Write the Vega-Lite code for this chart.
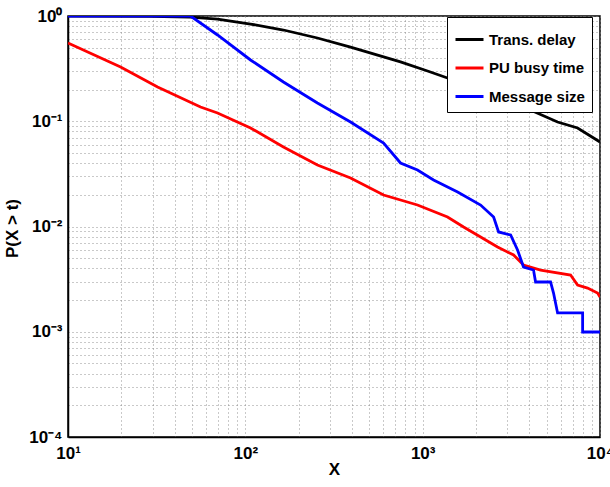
{
  "$schema": "https://vega.github.io/schema/vega-lite/v6.json",
  "width": 532,
  "height": 421,
  "autosize": {"type": "none"},
  "padding": {"left": 68, "top": 16, "right": 10, "bottom": 50},
  "background": "white",
  "view": {"stroke": "black", "strokeWidth": 1.5},
  "config": {
    "font": "Liberation Sans",
    "axis": {
      "labelFont": "Liberation Sans", "labelFontWeight": "bold", "labelFontSize": 17, "labelColor": "black",
      "titleFont": "Liberation Sans", "titleFontWeight": "bold", "titleFontSize": 17, "titleColor": "black",
      "gridColor": "#888", "gridDash": [1, 3], "gridWidth": 1, "gridOpacity": 0.9,
      "domainColor": "black", "domainWidth": 1.5, "ticks": false
    }
  },
  "data": {"values": [
    {"s": "Trans. delay", "o": 0, "x": 10, "y": 1},
    {"s": "Trans. delay", "o": 1, "x": 29.2, "y": 0.99},
    {"s": "Trans. delay", "o": 2, "x": 49, "y": 0.975},
    {"s": "Trans. delay", "o": 3, "x": 69.7, "y": 0.936},
    {"s": "Trans. delay", "o": 4, "x": 107, "y": 0.839},
    {"s": "Trans. delay", "o": 5, "x": 164, "y": 0.736},
    {"s": "Trans. delay", "o": 6, "x": 255, "y": 0.618},
    {"s": "Trans. delay", "o": 7, "x": 392, "y": 0.507},
    {"s": "Trans. delay", "o": 8, "x": 750, "y": 0.366},
    {"s": "Trans. delay", "o": 9, "x": 1065, "y": 0.3},
    {"s": "Trans. delay", "o": 10, "x": 1790, "y": 0.221},
    {"s": "Trans. delay", "o": 11, "x": 2748, "y": 0.17},
    {"s": "Trans. delay", "o": 12, "x": 3705, "y": 0.1366},
    {"s": "Trans. delay", "o": 13, "x": 5765, "y": 0.0984},
    {"s": "Trans. delay", "o": 14, "x": 7475, "y": 0.0863},
    {"s": "Trans. delay", "o": 15, "x": 10000, "y": 0.0635},

    {"s": "PU busy time", "o": 0, "x": 10, "y": 0.554},
    {"s": "PU busy time", "o": 1, "x": 19.8, "y": 0.328},
    {"s": "PU busy time", "o": 2, "x": 32, "y": 0.2115},
    {"s": "PU busy time", "o": 3, "x": 55.9, "y": 0.1366},
    {"s": "PU busy time", "o": 4, "x": 69.7, "y": 0.1198},
    {"s": "PU busy time", "o": 5, "x": 107, "y": 0.0863},
    {"s": "PU busy time", "o": 6, "x": 164, "y": 0.0569},
    {"s": "PU busy time", "o": 7, "x": 255, "y": 0.0384},
    {"s": "PU busy time", "o": 8, "x": 392, "y": 0.0289},
    {"s": "PU busy time", "o": 9, "x": 602, "y": 0.0199},
    {"s": "PU busy time", "o": 10, "x": 935, "y": 0.016},
    {"s": "PU busy time", "o": 11, "x": 1381, "y": 0.0123},
    {"s": "PU busy time", "o": 12, "x": 1701, "y": 0.00989},
    {"s": "PU busy time", "o": 13, "x": 2122, "y": 0.00795},
    {"s": "PU busy time", "o": 14, "x": 2644, "y": 0.00639},
    {"s": "PU busy time", "o": 15, "x": 3257, "y": 0.00536},
    {"s": "PU busy time", "o": 16, "x": 3705, "y": 0.00431},
    {"s": "PU busy time", "o": 17, "x": 4623, "y": 0.00386},
    {"s": "PU busy time", "o": 18, "x": 6825, "y": 0.00346},
    {"s": "PU busy time", "o": 19, "x": 7475, "y": 0.00278},
    {"s": "PU busy time", "o": 20, "x": 8510, "y": 0.0026},
    {"s": "PU busy time", "o": 21, "x": 9690, "y": 0.00233},
    {"s": "PU busy time", "o": 22, "x": 10000, "y": 0.00214},

    {"s": "Message size", "o": 0, "x": 10, "y": 1},
    {"s": "Message size", "o": 1, "x": 49.1, "y": 1},
    {"s": "Message size", "o": 2, "x": 69.7, "y": 0.66},
    {"s": "Message size", "o": 3, "x": 107, "y": 0.382},
    {"s": "Message size", "o": 4, "x": 164, "y": 0.236},
    {"s": "Message size", "o": 5, "x": 255, "y": 0.149},
    {"s": "Message size", "o": 6, "x": 392, "y": 0.0984},
    {"s": "Message size", "o": 7, "x": 602, "y": 0.0621},
    {"s": "Message size", "o": 8, "x": 750, "y": 0.0401},
    {"s": "Message size", "o": 9, "x": 935, "y": 0.0344},
    {"s": "Message size", "o": 10, "x": 1152, "y": 0.0277},
    {"s": "Message size", "o": 11, "x": 1574, "y": 0.0213},
    {"s": "Message size", "o": 12, "x": 2122, "y": 0.016},
    {"s": "Message size", "o": 13, "x": 2512, "y": 0.0123},
    {"s": "Message size", "o": 14, "x": 2680, "y": 0.00887},
    {"s": "Message size", "o": 15, "x": 3133, "y": 0.0083},
    {"s": "Message size", "o": 16, "x": 3428, "y": 0.00598},
    {"s": "Message size", "o": 17, "x": 3705, "y": 0.00412},
    {"s": "Message size", "o": 18, "x": 4218, "y": 0.00386},
    {"s": "Message size", "o": 19, "x": 4332, "y": 0.00297},
    {"s": "Message size", "o": 20, "x": 5263, "y": 0.00297},
    {"s": "Message size", "o": 21, "x": 5470, "y": 0.00233},
    {"s": "Message size", "o": 22, "x": 5765, "y": 0.00151},
    {"s": "Message size", "o": 23, "x": 7980, "y": 0.00151},
    {"s": "Message size", "o": 24, "x": 7980, "y": 0.000995},
    {"s": "Message size", "o": 25, "x": 10000, "y": 0.000995}
  ]},
  "mark": {"type": "line", "strokeWidth": 2.8, "clip": true},
  "encoding": {
    "x": {
      "field": "x", "type": "quantitative",
      "scale": {"type": "log", "domain": [10, 10000], "nice": false},
      "axis": {
        "title": "X", "titlePadding": 0,
        "values": [10, 20, 30, 40, 50, 60, 70, 80, 90, 100, 200, 300, 400, 500, 600, 700, 800, 900, 1000, 2000, 3000, 4000, 5000, 6000, 7000, 8000, 9000, 10000],
        "labelExpr": "datum.value == 10 ? '10¹' : datum.value == 100 ? '10²' : datum.value == 1000 ? '10³' : datum.value == 10000 ? '10⁴' : ''",
        "labelPadding": 8, "labelFlush": false, "labelOverlap": false
      }
    },
    "y": {
      "field": "y", "type": "quantitative",
      "scale": {"type": "log", "domain": [0.0001, 1], "nice": false},
      "axis": {
        "title": "P(X > t)", "titleX": -47, "titleY": 212,
        "values": [0.0001, 0.0002, 0.0003, 0.0004, 0.0005, 0.0006, 0.0007, 0.0008, 0.0009, 0.001, 0.002, 0.003, 0.004, 0.005, 0.006, 0.007, 0.008, 0.009, 0.01, 0.02, 0.03, 0.04, 0.05, 0.06, 0.07, 0.08, 0.09, 0.1, 0.2, 0.3, 0.4, 0.5, 0.6, 0.7, 0.8, 0.9, 1],
        "labelExpr": "datum.value == 1 ? '10⁰' : datum.value == 0.1 ? '10⁻¹' : datum.value == 0.01 ? '10⁻²' : datum.value == 0.001 ? '10⁻³' : datum.value == 0.0001 ? '10⁻⁴' : ''",
        "labelPadding": 6, "labelFlush": false, "labelOverlap": false
      }
    },
    "color": {
      "field": "s", "type": "nominal",
      "scale": {"domain": ["Trans. delay", "PU busy time", "Message size"], "range": ["#000000", "#ff0000", "#0000ff"]},
      "legend": {
        "title": null, "orient": "none", "legendX": 379, "legendY": 1,
        "symbolType": "stroke", "symbolSize": 784, "symbolStrokeWidth": 3,
        "labelFont": "Liberation Sans", "labelFontWeight": "bold", "labelFontSize": 15, "labelColor": "black",
        "strokeColor": "black", "fillColor": "white", "padding": 7, "rowPadding": 4.5, "labelOffset": 4
      }
    },
    "order": {"field": "o", "type": "quantitative"}
  }
}
